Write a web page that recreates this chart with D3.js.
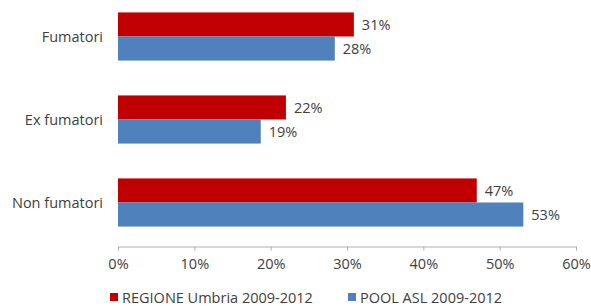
<!DOCTYPE html>
<html><head><meta charset="utf-8">
<script src="https://cdn.jsdelivr.net/npm/d3@7"></script>
<style>body{margin:0;background:#fff}svg{display:block}text{font-family:"Open Sans","Liberation Sans",sans-serif;fill:#404040}</style>
</head><body>
<script>
const categories = ["Fumatori","Ex fumatori","Non fumatori"];
const seriesNames = ["REGIONE Umbria 2009-2012","POOL ASL 2009-2012"];
const regione = [30.9,22.0,47.0];
const pool = [28.4,18.7,53.1];
const ticks = [0,10,20,30,40,50,60];
const colors = ["#C00000","#4F81BD"];

const W=591,H=306,FS=14.5;
const svg=d3.select("body").append("svg").attr("width",W).attr("height",H);
const x=d3.scaleLinear().domain([0,60]).range([118,576]);
const y=d3.scaleBand().domain(categories).range([-5,244]).paddingInner(0.42).paddingOuter(0.21);
const sub=d3.scaleBand().domain([0,1]).range([0,y.bandwidth()]);
const data=categories.map((c,i)=>({c,v:[regione[i],pool[i]]}));

const g=svg.append("g");
data.forEach(d=>{
  d.v.forEach((v,j)=>{
    g.append("rect").attr("x",x(0)).attr("y",y(d.c)+sub(j)).attr("width",x(v)-x(0)).attr("height",sub.bandwidth()).attr("fill",colors[j]);
    g.append("text").attr("x",x(v)+8).attr("y",y(d.c)+sub(j)+sub.bandwidth()/2).attr("dy","0.35em").attr("font-size",FS).text(Math.round(v)+"%");
  });
  g.append("text").attr("x",103).attr("y",y(d.c)+y.bandwidth()/2).attr("dy","0.35em").attr("text-anchor","end").attr("font-size",FS).text(d.c);
});

const ax=svg.append("g").attr("transform","translate(0,246.5)").call(d3.axisBottom(x).tickValues(ticks).tickSize(4).tickFormat(d=>d+"%"));
ax.select(".domain").attr("stroke","#b0b0b0");
ax.selectAll(".tick line").attr("stroke","#b0b0b0");
ax.selectAll(".tick text").attr("font-size",FS).attr("fill","#404040").attr("dy","1.1em").style("font-family",'"Open Sans","Liberation Sans",sans-serif');

const lx=[110,348];
seriesNames.forEach((s,j)=>{
  svg.append("rect").attr("x",lx[j]).attr("y",293).attr("width",8).attr("height",8).attr("fill",colors[j]);
  svg.append("text").attr("x",lx[j]+12).attr("y",298).attr("dy","0.35em").attr("font-size",FS).text(s);
});
</script>
</body></html>
